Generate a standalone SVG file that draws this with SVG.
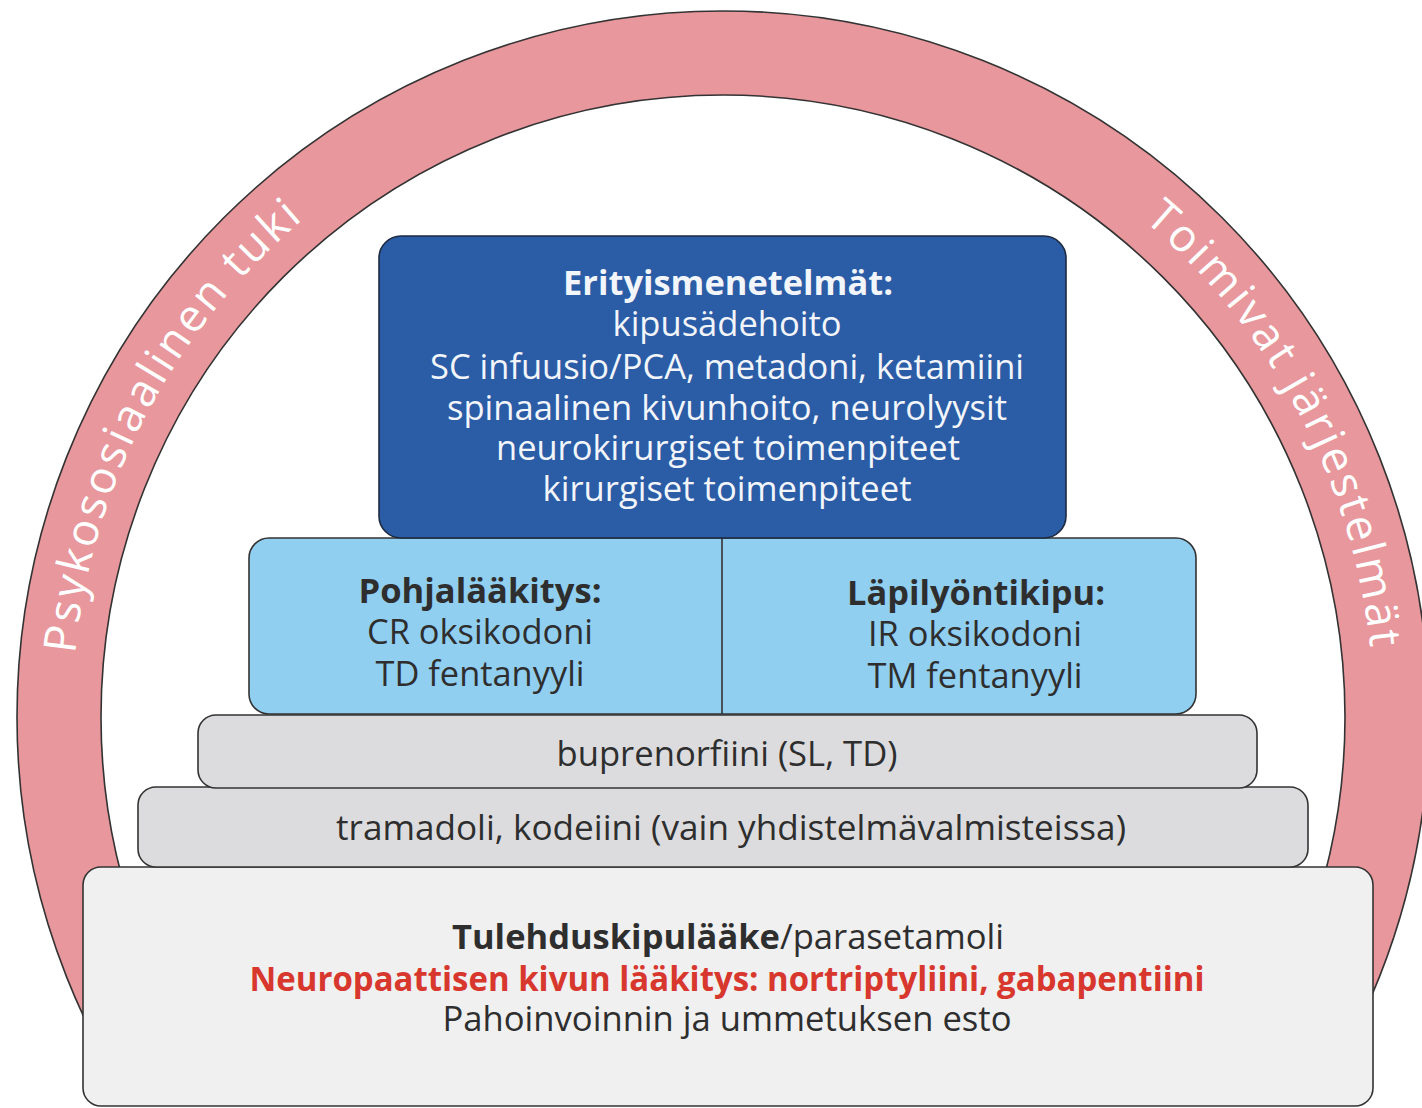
<svg xmlns="http://www.w3.org/2000/svg" width="1422" height="1108" viewBox="0 0 1422 1108">
<style>
.t{font-family:"Open Sans","Liberation Sans",sans-serif;text-anchor:middle}
.w{fill:#F2F5FA;font-size:34px}
.d{fill:#2E2E2E;font-size:34px}
.b{font-weight:bold}
.r{fill:#D8372E;font-size:34px;font-weight:bold}
.ring{fill:#FFFFFF;font-size:45px;font-family:"Open Sans","Liberation Sans",sans-serif;letter-spacing:2.8px}
.box{stroke:#333;stroke-width:1.6}
</style>
<defs>
<path id="arcPath" d="M72,717 A651,651 0 0 1 1374,717"/>
<clipPath id="ringClip"><rect x="0" y="0" width="1422" height="1060"/></clipPath>
</defs>
<rect width="1422" height="1108" fill="#FFFFFF"/>
<g id="ring">
<path clip-path="url(#ringClip)" d="M17,717 A706,706 0 1 1 1429,717 A706,706 0 1 1 17,717 Z M101,717 A622,622 0 1 0 1345,717 A622,622 0 1 0 101,717 Z" fill="#E8979C" fill-rule="evenodd" stroke="#333" stroke-width="1.6"/>
<text class="ring"><textPath href="#arcPath" startOffset="316" text-anchor="middle">Psykososiaalinen tuki</textPath></text>
<text class="ring"><textPath href="#arcPath" startOffset="1729" text-anchor="middle">Toimivat järjestelmät</textPath></text>
</g>
<g id="perus">
<rect class="box" x="83" y="867" width="1290" height="239" rx="18" fill="#F0F0F0"/>
<text class="t d b" x="452" y="949" style="text-anchor:start" textLength="328" lengthAdjust="spacingAndGlyphs">Tulehduskipulääke</text>
<text class="t d" x="780" y="949" style="text-anchor:start" textLength="224" lengthAdjust="spacingAndGlyphs">/parasetamoli</text>
<text class="t r" x="727" y="991" textLength="955" lengthAdjust="spacingAndGlyphs">Neuropaattisen kivun lääkitys: nortriptyliini, gabapentiini</text>
<text class="t d" x="727" y="1031" textLength="569" lengthAdjust="spacingAndGlyphs">Pahoinvoinnin ja ummetuksen esto</text>
</g>
<g id="tramadoli">
<rect class="box" x="138" y="787" width="1170" height="80" rx="18" fill="#DCDCDE"/>
<text class="t d" x="731" y="840" textLength="790" lengthAdjust="spacingAndGlyphs">tramadoli, kodeiini (vain yhdistelmävalmisteissa)</text>
</g>
<g id="buprenorfiini">
<rect class="box" x="198" y="715" width="1059" height="73" rx="18" fill="#DCDCDE"/>
<text class="t d" x="727" y="766" textLength="341" lengthAdjust="spacingAndGlyphs">buprenorfiini (SL, TD)</text>
</g>
<g id="opioidit">
<rect class="box" x="249" y="538" width="947" height="176" rx="20" fill="#91CFF1"/>
<line x1="722" y1="538" x2="722" y2="714" stroke="#333" stroke-width="1.6"/>
</g>
<g id="pohjalaakitys">
<text class="t d b" x="480" y="603" textLength="243" lengthAdjust="spacingAndGlyphs">Pohjalääkitys:</text>
<text class="t d" x="480" y="644" textLength="226" lengthAdjust="spacingAndGlyphs">CR oksikodoni</text>
<text class="t d" x="480" y="686" textLength="209" lengthAdjust="spacingAndGlyphs">TD fentanyyli</text>
</g>
<g id="lapilyontikipu">
<text class="t d b" x="976" y="605" textLength="258" lengthAdjust="spacingAndGlyphs">Läpilyöntikipu:</text>
<text class="t d" x="975" y="646" textLength="214" lengthAdjust="spacingAndGlyphs">IR oksikodoni</text>
<text class="t d" x="975" y="688" textLength="215" lengthAdjust="spacingAndGlyphs">TM fentanyyli</text>
</g>
<g id="erityismenetelmat">
<rect x="379" y="236" width="687" height="302" rx="22" fill="#2B5CA6" stroke="#1E2A40" stroke-width="1.6"/>
<text class="t w b" x="728" y="295" textLength="330" lengthAdjust="spacingAndGlyphs">Erityismenetelmät:</text>
<text class="t w" x="727" y="336" textLength="229" lengthAdjust="spacingAndGlyphs">kipusädehoito</text>
<text class="t w" x="727" y="379" textLength="594" lengthAdjust="spacingAndGlyphs">SC infuusio/PCA, metadoni, ketamiini</text>
<text class="t w" x="727" y="420" textLength="560" lengthAdjust="spacingAndGlyphs">spinaalinen kivunhoito, neurolyysit</text>
<text class="t w" x="728" y="460" textLength="464" lengthAdjust="spacingAndGlyphs">neurokirurgiset toimenpiteet</text>
<text class="t w" x="727" y="501" textLength="369" lengthAdjust="spacingAndGlyphs">kirurgiset toimenpiteet</text>
</g>
</svg>
